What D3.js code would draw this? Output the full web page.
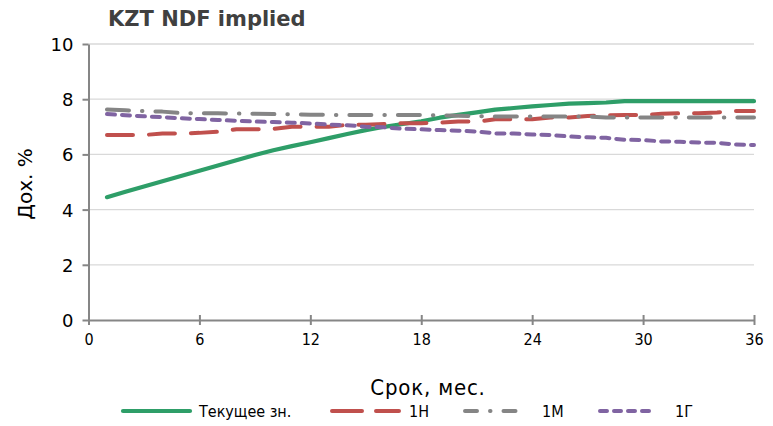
<!DOCTYPE html>
<html lang="ru">
<head>
<meta charset="UTF-8">
<title>KZT NDF implied</title>
<script src="https://cdn.jsdelivr.net/npm/d3@7"></script>
<style>
  body { margin: 0; background: #fff; }
  svg text { fill: #000; }
  .grid line { stroke: #d9d9d9; stroke-width: 1.3; }
  .axis path, .axis line { stroke: #868686; stroke-width: 2; }
  .series { fill: none; stroke-linejoin: round; }
</style>
</head>
<body>
<svg id="chart" width="773" height="426"></svg>
<script>
// months 1..36
var months = d3.range(1, 37);
var current = [4.45, 4.65, 4.84, 5.03, 5.22, 5.41, 5.60, 5.79, 5.98, 6.15, 6.30, 6.44,
               6.59, 6.74, 6.88, 7.00, 7.10, 7.20, 7.33, 7.43, 7.52, 7.62, 7.68, 7.74,
               7.79, 7.84, 7.86, 7.88, 7.93, 7.93, 7.93, 7.93, 7.93, 7.93, 7.93, 7.93];
var w1 = [6.70, 6.70, 6.70, 6.76, 6.76, 6.78, 6.82, 6.91, 6.91, 6.92, 7.00, 7.00,
          7.00, 7.07, 7.07, 7.10, 7.13, 7.13, 7.15, 7.19, 7.19, 7.27, 7.27, 7.27,
          7.34, 7.34, 7.39, 7.42, 7.43, 7.43, 7.47, 7.49, 7.49, 7.52, 7.57, 7.57];
var m1 = [7.63, 7.60, 7.57, 7.55, 7.50, 7.49, 7.49, 7.48, 7.47, 7.46, 7.45, 7.44,
          7.43, 7.43, 7.43, 7.43, 7.43, 7.43, 7.41, 7.40, 7.39, 7.37, 7.37, 7.37,
          7.37, 7.37, 7.37, 7.34, 7.34, 7.34, 7.34, 7.34, 7.34, 7.34, 7.34, 7.34];
var y1 = [7.46, 7.42, 7.38, 7.35, 7.31, 7.28, 7.25, 7.22, 7.19, 7.17, 7.15, 7.12,
          7.08, 7.06, 7.00, 6.98, 6.93, 6.91, 6.88, 6.86, 6.83, 6.76, 6.76, 6.72,
          6.70, 6.65, 6.62, 6.60, 6.53, 6.52, 6.47, 6.46, 6.43, 6.42, 6.36, 6.34];

var xTicks = [0, 6, 12, 18, 24, 30, 36];
var yTicks = [0, 2, 4, 6, 8, 10];

var series = [
  {name: "Текущее зн.", values: current, color: "#2e9e68", dash: null, legDash: null, width: 4.2},
  {name: "1Н", values: w1, color: "#c0504d", dash: "26,16", legDash: "30,14", width: 4},
  {name: "1М", values: m1, color: "#858585", dash: "22,13,0.5,13", legDash: "12,13,0.5,13", width: 4},
  {name: "1Г", values: y1, color: "#8064a2", dash: "8,7", legDash: "7,7", width: 4}
];

var svg = d3.select("#chart");
var margin = {top: 44, left: 88.5, right: 19, bottom: 106};
var width = 773 - margin.left - margin.right,
    height = 426 - margin.top - margin.bottom;

var x = d3.scaleLinear().domain([0, 36]).range([0, width]);
var y = d3.scaleLinear().domain([0, 10]).range([height, 0]);

var g = svg.append("g").attr("transform", "translate(" + margin.left + "," + margin.top + ")");

g.append("g").attr("class", "grid")
  .selectAll("line").data(yTicks.filter(function(d) { return d > 0; }))
  .enter().append("line")
  .attr("x1", 0).attr("x2", width)
  .attr("y1", d => y(d)).attr("y2", d => y(d));

// y axis
var yAxis = g.append("g").attr("class", "axis")
  .call(d3.axisLeft(y).tickValues(yTicks).tickSize(6).tickSizeOuter(0));
yAxis.selectAll("text")
  .attr("x", -15)
  .attr("dy", "0.36em")
  .style("font-family", "'DejaVu Sans', Verdana, sans-serif")
  .style("font-size", "18px");

// x axis with crossing ticks
var xAxis = g.append("g").attr("class", "axis")
  .attr("transform", "translate(0," + height + ")")
  .call(d3.axisBottom(x).tickValues(xTicks).tickSize(6).tickSizeOuter(0));
xAxis.selectAll(".tick line").attr("y1", -5).attr("y2", 5);
xAxis.selectAll("text")
  .attr("y", 14)
  .style("font-family", "'DejaVu Sans Condensed', 'Liberation Sans Narrow', sans-serif")
  .style("font-size", "16px");

var line = d3.line()
  .x(function(d, i) { return x(months[i]); })
  .y(function(d) { return y(d); });

g.selectAll("path.series").data(series).enter().append("path")
  .attr("class", "series")
  .attr("d", d => line(d.values))
  .attr("stroke", d => d.color)
  .attr("stroke-width", d => d.width)
  .attr("stroke-dasharray", d => d.dash)
  .attr("stroke-linecap", "round");

// title
svg.append("text")
  .attr("x", 108).attr("y", 26)
  .style("font-family", "'DejaVu Sans', Verdana, sans-serif")
  .style("font-weight", "bold")
  .style("font-size", "21px")
  .style("fill", "#404040")
  .text("KZT NDF implied");

// axis titles
svg.append("text")
  .attr("transform", "translate(32," + 184 + ") rotate(-90)")
  .attr("text-anchor", "middle")
  .style("font-family", "'DejaVu Sans', Verdana, sans-serif")
  .style("font-size", "20px")
  .text("Дох. %");

svg.append("text")
  .attr("x", 428).attr("y", 395)
  .attr("text-anchor", "middle")
  .style("font-family", "'DejaVu Sans Condensed', 'Liberation Sans Narrow', sans-serif")
  .style("font-size", "22px")
  .style("letter-spacing", "0.8px")
  .text("Срок, мес.");

// legend
var legendPos = [{x: 123, x2: 190, tx: 199}, {x: 332, x2: 399, tx: 409},
                 {x: 465, x2: 521, tx: 542}, {x: 600, x2: 656, tx: 675}];
var leg = svg.append("g").selectAll("g").data(series).enter().append("g");
leg.append("line")
  .attr("x1", (d, i) => legendPos[i].x).attr("x2", (d, i) => legendPos[i].x2)
  .attr("y1", 411).attr("y2", 411)
  .attr("stroke", d => d.color)
  .attr("stroke-width", d => d.width)
  .attr("stroke-dasharray", d => d.legDash)
  .attr("stroke-linecap", "round");
leg.append("text")
  .attr("x", (d, i) => legendPos[i].tx).attr("y", 417)
  .style("font-family", "'DejaVu Sans Condensed', 'Liberation Sans Narrow', sans-serif")
  .style("font-size", "16px")
  .text(d => d.name);
</script>
</body>
</html>
